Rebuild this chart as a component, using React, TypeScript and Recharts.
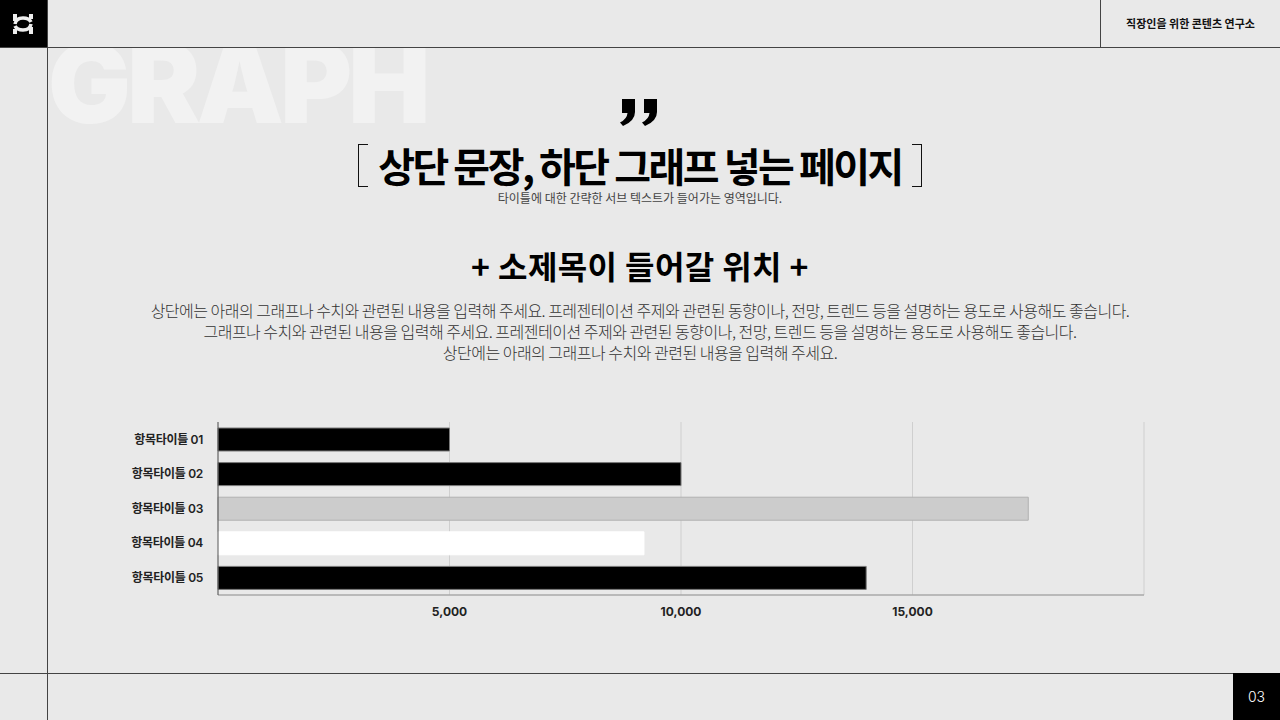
import React from 'react';
import { BarChart, Bar, XAxis, YAxis, CartesianGrid, Cell } from 'recharts';

const categories = ['항목타이틀 01', '항목타이틀 02', '항목타이틀 03', '항목타이틀 04', '항목타이틀 05'];
const values = [5000, 10000, 17500, 9200, 14000];
const barFills = ['#000000', '#000000', '#cccccc', '#ffffff', '#000000'];
const barStrokes = ['#7a7a7a', '#7a7a7a', '#b0b0b0', '#ffffff', '#7a7a7a'];
const xTicks = [5000, 10000, 15000, 20000];

const paragraph = [
  '상단에는 아래의 그래프나 수치와 관련된 내용을 입력해 주세요. 프레젠테이션 주제와 관련된 동향이나, 전망, 트렌드 등을 설명하는 용도로 사용해도 좋습니다.',
  '그래프나 수치와 관련된 내용을 입력해 주세요. 프레젠테이션 주제와 관련된 동향이나, 전망, 트렌드 등을 설명하는 용도로 사용해도 좋습니다.',
  '상단에는 아래의 그래프나 수치와 관련된 내용을 입력해 주세요.',
];

const FONT = "Inter, 'Noto Sans CJK KR', sans-serif";
const KFONT = "'Noto Sans CJK KR', sans-serif";

const chartData = categories.map((name, i) => ({ name, value: values[i] }));

const fmt = (v: number) => (v === 20000 ? '' : v.toLocaleString('en-US'));

// one bold comma of the closing quote mark
const COMMA = 'M4 0 H17 V13 Q17 22 5 27 L2 23.5 Q9 20 9.5 14 H4 Z';

export default function App() {
  return (
    <div
      style={{
        position: 'fixed',
        left: 0,
        top: 0,
        width: 1280,
        height: 720,
        background: '#e9e9e9',
        overflow: 'hidden',
        fontFamily: FONT,
      }}
    >
      {/* watermark */}
      <div style={{ position: 'absolute', left: 48, top: 48, width: 420, height: 90, overflow: 'hidden' }}>
        <div
          style={{
            position: 'absolute',
            left: 0,
            top: -20,
            fontSize: 110,
            fontWeight: 900,
            letterSpacing: -4,
            color: '#f2f2f2',
            lineHeight: '110px',
            fontFamily: 'Inter, sans-serif',
            whiteSpace: 'nowrap',
          }}
        >
          GRAPH
        </div>
      </div>

      {/* frame */}
      <div style={{ position: 'absolute', left: 0, top: 47, width: 1280, height: 1, background: '#444' }} />
      <div style={{ position: 'absolute', left: 47, top: 0, width: 1, height: 720, background: '#444' }} />
      <div style={{ position: 'absolute', left: 1100, top: 0, width: 1, height: 47, background: '#444' }} />
      <div style={{ position: 'absolute', left: 0, top: 673, width: 1280, height: 1, background: '#444' }} />
      <div style={{ position: 'absolute', left: 0, top: 0, width: 47, height: 47, background: '#000' }}>
        <svg width={47} height={47}>
          <rect x={13} y={14} width={4} height={7} fill="#eee" />
          <rect x={13} y={29} width={4} height={5} fill="#eee" />
          <rect x={29} y={14} width={4} height={5} fill="#eee" />
          <rect x={29} y={27} width={4} height={7} fill="#eee" />
          <path d="M15 24 Q16 18 23 18 Q29 18 31 22 M31 24 Q30 30 23 30 Q17 30 15 26" stroke="#eee" strokeWidth={3.5} fill="none" />
        </svg>
      </div>
      <div
        style={{
          position: 'absolute',
          left: 1101,
          top: 15,
          width: 179,
          textAlign: 'center',
          fontSize: 11,
          fontWeight: 700,
          color: '#111',
          fontFamily: KFONT,
          lineHeight: '16px',
        }}
      >
        직장인을 위한 콘텐츠 연구소
      </div>
      <div
        style={{
          position: 'absolute',
          left: 1233,
          top: 673,
          width: 47,
          height: 47,
          background: '#000',
          color: '#fff',
          fontSize: 14,
          lineHeight: '47px',
          textAlign: 'center',
          fontWeight: 300,
        }}
      >
        03
      </div>

      {/* quote mark */}
      <svg style={{ position: 'absolute', left: 618, top: 99 }} width={46} height={30}>
        <path d={COMMA} fill="#000" />
        <path d={COMMA} fill="#000" transform="translate(22,0)" />
      </svg>

      {/* title with brackets */}
      <div style={{ position: 'absolute', left: 358, top: 144, width: 10, height: 43, borderLeft: '1.5px solid #111', borderTop: '1.5px solid #111', borderBottom: '1.5px solid #111', boxSizing: 'border-box' }} />
      <div style={{ position: 'absolute', left: 912, top: 144, width: 10, height: 43, borderRight: '1.5px solid #111', borderTop: '1.5px solid #111', borderBottom: '1.5px solid #111', boxSizing: 'border-box' }} />
      <div
        style={{
          position: 'absolute',
          left: 0,
          top: 144,
          width: 1280,
          textAlign: 'center',
          fontSize: 40,
          fontWeight: 700,
          letterSpacing: -2.5,
          lineHeight: '42px',
          color: '#000',
          fontFamily: KFONT,
        }}
      >
        상단 문장, 하단 그래프 넣는 페이지
      </div>
      <div
        style={{
          position: 'absolute',
          left: 0,
          top: 190,
          width: 1280,
          textAlign: 'center',
          fontSize: 12,
          letterSpacing: 0,
          lineHeight: '16px',
          color: '#444',
          fontFamily: KFONT,
        }}
      >
        타이틀에 대한 간략한 서브 텍스트가 들어가는 영역입니다.
      </div>

      {/* subheading */}
      <div
        style={{
          position: 'absolute',
          left: 0,
          top: 244,
          width: 1280,
          textAlign: 'center',
          fontSize: 32,
          fontWeight: 700,
          letterSpacing: 0.4,
          lineHeight: '42px',
          color: '#000',
          fontFamily: KFONT,
        }}
      >
        + 소제목이 들어갈 위치 +
      </div>

      {/* paragraph */}
      <div
        style={{
          position: 'absolute',
          left: 0,
          top: 300,
          width: 1280,
          textAlign: 'center',
          fontSize: 16,
          fontWeight: 300,
          letterSpacing: -0.5,
          lineHeight: '21px',
          color: '#333',
          fontFamily: KFONT,
        }}
      >
        {paragraph.map((line, i) => (
          <div key={i}>{line}</div>
        ))}
      </div>

      {/* chart */}
      <div style={{ position: 'absolute', left: 100, top: 412 }}>
        <BarChart
          width={1060}
          height={230}
          data={chartData}
          layout="vertical"
          margin={{ top: 10, right: 16, bottom: 0, left: 0 }}
          barSize={23}
        >
          <CartesianGrid horizontal={false} stroke="#cfcfcf" />
          <XAxis
            type="number"
            domain={[0, 20000]}
            ticks={xTicks}
            tickFormatter={fmt}
            height={47}
            tickSize={0}
            tickMargin={12}
            axisLine={{ stroke: '#a8a8a8', strokeWidth: 1.5 }}
            tick={{ fill: '#222', fontSize: 12, fontWeight: 700, fontFamily: FONT }}
          />
          <YAxis
            type="category"
            dataKey="name"
            width={118}
            tickSize={0}
            tickMargin={15}
            axisLine={{ stroke: '#555' }}
            tick={{ fill: '#222', fontSize: 12, fontWeight: 600, fontFamily: FONT, letterSpacing: -0.3 }}
          />
          <Bar dataKey="value" isAnimationActive={false}>
            {chartData.map((d, i) => (
              <Cell key={d.name} fill={barFills[i]} stroke={barStrokes[i]} strokeWidth={1} />
            ))}
          </Bar>
        </BarChart>
      </div>
    </div>
  );
}
